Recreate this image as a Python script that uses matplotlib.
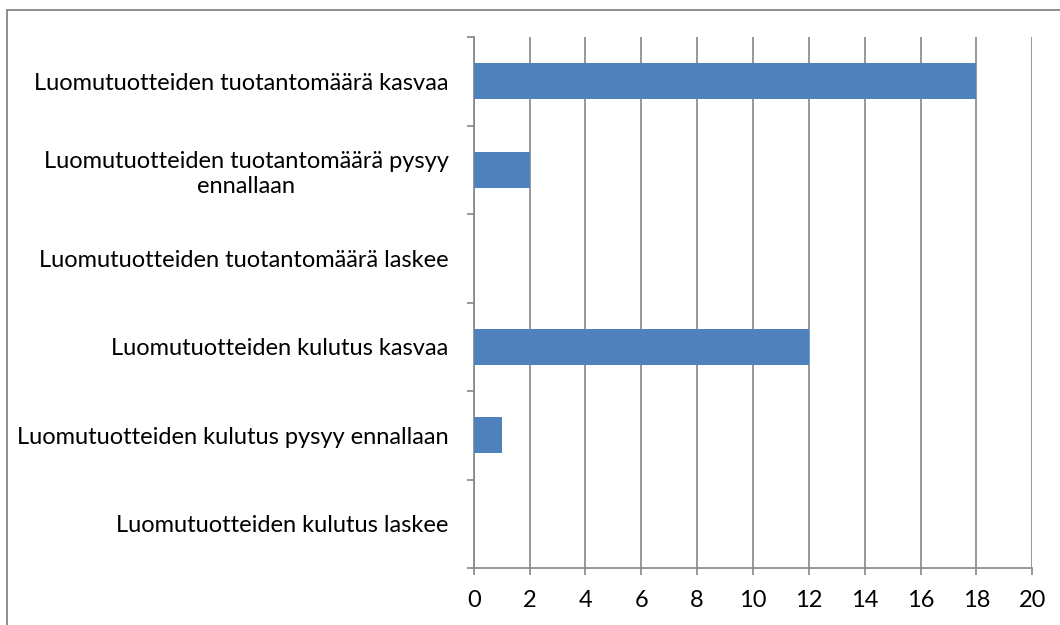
import matplotlib
matplotlib.use("Agg")
import matplotlib.pyplot as plt
from matplotlib.patches import Rectangle
import numpy as np

categories = [
    "Luomutuotteiden tuotantomäärä kasvaa",
    "Luomutuotteiden tuotantomäärä pysyy\nennallaan",
    "Luomutuotteiden tuotantomäärä laskee",
    "Luomutuotteiden kulutus kasvaa",
    "Luomutuotteiden kulutus pysyy ennallaan",
    "Luomutuotteiden kulutus laskee",
]
values = [18, 2, 0, 12, 1, 0]
xticks = list(range(0, 21, 2))

GRAY = "#868686"
BAR = "#4F81BD"

plt.rcParams['font.family'] = ['Lato', 'DejaVu Sans']

fig = plt.figure(figsize=(10.6, 6.25), dpi=100)
ax = fig.add_axes([473.7/1060, 1-568/625, (1032.3-473.7)/1060, (568-37)/625])

y = np.arange(len(categories))
ax.barh(y, values, height=0.41, color=BAR, zorder=3)

ax.set_xlim(0, 20)
ax.set_ylim(len(categories)-0.5, -0.5)
ax.set_xticks(xticks)
ax.set_xticklabels([str(t) for t in xticks], fontsize=17)
ax.set_yticks(y)
ax.set_yticklabels(categories, fontsize=17, multialignment='center', linespacing=1.25)
ax.set_yticks(np.arange(len(categories)+1)-0.5, minor=True)
ax.tick_params(axis='y', which='major', length=0, pad=18)
ax.tick_params(axis='y', which='minor', length=5, color=GRAY, width=1.2, direction='out')
ax.tick_params(axis='x', which='major', length=5, color=GRAY, width=1.2, direction='out', pad=11)

ax.grid(axis='x', color=GRAY, linewidth=1.2, zorder=0)
for s in ['top', 'right']:
    ax.spines[s].set_visible(False)
for s in ['left', 'bottom']:
    ax.spines[s].set_color(GRAY)
    ax.spines[s].set_linewidth(1.2)

top = 1 - 10/625
fig.patches.append(Rectangle((7/1060, -0.5), 2, top + 0.5, transform=fig.transFigure,
                             fill=False, edgecolor=GRAY, linewidth=1.3))

fig.savefig("out.png", dpi=100)
